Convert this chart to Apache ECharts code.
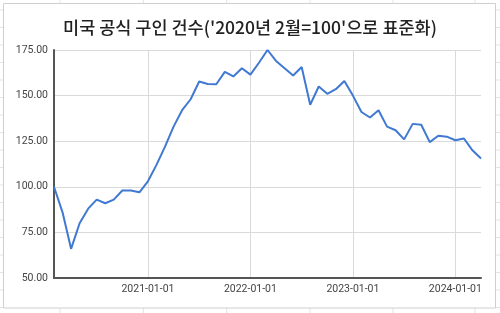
<!DOCTYPE html>
<html>
<head>
<meta charset="utf-8">
<script src="https://cdn.jsdelivr.net/npm/echarts@6/dist/echarts.min.js"></script>
<style>
html,body{margin:0;padding:0;background:#fff;}
#chart{width:500px;height:313px;}
</style>
</head>
<body>
<div id="chart"></div>
<script>
var titleText = "미국 공식 구인 건수('2020년 2월=100'으로 표준화)";

var months = [
  "2020-02-01","2020-03-01","2020-04-01","2020-05-01","2020-06-01","2020-07-01","2020-08-01","2020-09-01","2020-10-01","2020-11-01","2020-12-01",
  "2021-01-01","2021-02-01","2021-03-01","2021-04-01","2021-05-01","2021-06-01","2021-07-01","2021-08-01","2021-09-01","2021-10-01","2021-11-01","2021-12-01",
  "2022-01-01","2022-02-01","2022-03-01","2022-04-01","2022-05-01","2022-06-01","2022-07-01","2022-08-01","2022-09-01","2022-10-01","2022-11-01","2022-12-01",
  "2023-01-01","2023-02-01","2023-03-01","2023-04-01","2023-05-01","2023-06-01","2023-07-01","2023-08-01","2023-09-01","2023-10-01","2023-11-01","2023-12-01",
  "2024-01-01","2024-02-01","2024-03-01","2024-04-01"
];

var openings = [
  100, 86, 66, 80, 88, 93, 91, 93, 98, 98, 97,
  103, 112, 122, 133, 142, 148, 157.7, 156.4, 156.2, 163, 160.5, 165,
  161.5, 168, 175, 169, 165, 161, 165.7, 145, 155, 151, 153.5, 158,
  150, 141, 138, 142, 133, 131, 126, 134.5, 134, 124.5, 128, 127.5,
  125.5, 126.5, 120, 115.5
];

var yTicks = [50, 75, 100, 125, 150, 175];

function isYearStart(i, v) { return /-01-01$/.test(v); }

// spreadsheet backdrop lines (decoration only)
var bg = [];
var sheetCols = [60, 143.3, 226.7, 310, 393, 475];
sheetCols.forEach(function (x) {
  bg.push({type:'line', z:-3, shape:{x1:x, y1:0, x2:x, y2:313}, style:{stroke:'#e3e3e3', lineWidth:1}});
});
for (var k = 0; k < 18; k++) {
  var y = 10 + 17.5 * k;
  bg.push({type:'line', z:-3, shape:{x1:0, y1:y, x2:500, y2:y}, style:{stroke:'#e3e3e3', lineWidth:1}});
}
bg.push({type:'rect', z:-2, shape:{x:3.5, y:3.5, width:492, height:304.5}, style:{fill:'#fff', stroke:'#cfcfcf', lineWidth:1}});

var chart = echarts.init(document.getElementById('chart'), null, {renderer:'canvas'});
chart.setOption({
  backgroundColor: '#fff',
  animation: false,
  graphic: { elements: bg },
  title: {
    text: titleText,
    left: 'center',
    top: 14,
    textStyle: { fontFamily: "'Noto Sans CJK KR', Roboto, sans-serif", fontSize: 17.5, fontWeight: 500, color: '#222' }
  },
  grid: { left: 54, right: 19, top: 50, bottom: 35 },
  xAxis: {
    type: 'category',
    data: months,
    boundaryGap: false,
    axisLine: { show: true, lineStyle: { color: '#555', width: 2 } },
    axisTick: { show: false },
    axisLabel: {
      interval: isYearStart,
      margin: 6,
      fontFamily: 'Roboto, sans-serif',
      fontSize: 10.5,
      color: '#444'
    },
    splitLine: { show: true, interval: isYearStart, lineStyle: { color: '#dadada', width: 1 } }
  },
  yAxis: {
    type: 'value',
    min: yTicks[0],
    max: yTicks[yTicks.length - 1],
    interval: 25,
    axisLine: { show: true, lineStyle: { color: '#555', width: 2 } },
    axisTick: { show: false },
    axisLabel: {
      margin: 6,
      fontFamily: 'Roboto, sans-serif',
      fontSize: 10.5,
      color: '#444',
      formatter: function (v) { return v.toFixed(2); }
    },
    splitLine: { show: true, lineStyle: { color: '#dadada', width: 1 } }
  },
  series: [{
    type: 'line',
    data: openings,
    showSymbol: false,
    symbol: 'none',
    lineStyle: { color: '#4079d2', width: 2 },
    itemStyle: { color: '#4079d2' }
  }]
});
</script>
</body>
</html>
